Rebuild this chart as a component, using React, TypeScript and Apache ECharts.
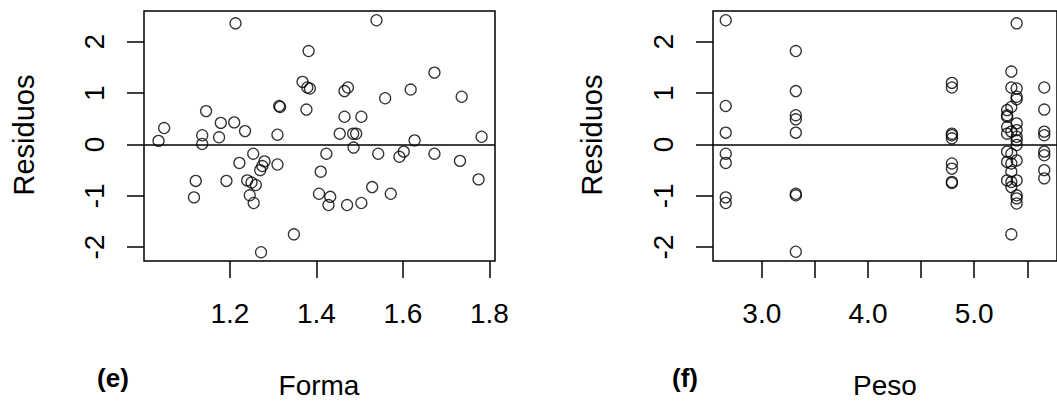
import React, { useEffect, useRef } from "react";
import * as echarts from "echarts";

// Panel (e): Forma vs residuals
const formaX = [
  1.213, 1.382, 1.368, 1.379, 1.385, 1.377, 1.314, 1.316, 1.145, 1.048,
  1.035, 1.179, 1.210, 1.235, 1.136, 1.175, 1.310, 1.136, 1.254, 1.222,
  1.280, 1.275, 1.270, 1.310, 1.121, 1.192, 1.240, 1.250, 1.260, 1.117,
  1.246, 1.255, 1.348, 1.272, 1.539, 1.673, 1.473, 1.465, 1.618, 1.559,
  1.736, 1.465, 1.504, 1.454, 1.485, 1.492, 1.627, 1.782, 1.486, 1.423,
  1.543, 1.602, 1.592, 1.673, 1.732, 1.410, 1.775, 1.406, 1.432, 1.428,
  1.471, 1.504, 1.529, 1.572,
];
const formaRes = [
  2.36, 1.82, 1.22, 1.11, 1.09, 0.68, 0.75, 0.73, 0.65, 0.32,
  0.07, 0.42, 0.43, 0.26, 0.18, 0.14, 0.19, 0.01, -0.18, -0.36,
  -0.33, -0.42, -0.5, -0.39, -0.71, -0.71, -0.7, -0.74, -0.79, -1.03,
  -0.99, -1.14, -1.75, -2.1, 2.42, 1.4, 1.11, 1.04, 1.07, 0.9,
  0.93, 0.54, 0.54, 0.21, 0.21, 0.21, 0.08, 0.15, -0.06, -0.18,
  -0.18, -0.14, -0.24, -0.18, -0.32, -0.53, -0.68, -0.96, -1.02, -1.18,
  -1.18, -1.14, -0.83, -0.96,
];

// Panel (f): Peso vs residuals
const pesoX = [
  2.66, 2.66, 2.66, 2.66, 2.66, 2.66, 2.66,
  3.32, 3.32, 3.32, 3.32, 3.32, 3.32, 3.32, 3.32,
  4.79, 4.79, 4.79, 4.79, 4.79, 4.79, 4.79, 4.79, 4.79,
  5.66, 5.66, 5.66, 5.66, 5.66, 5.66, 5.66, 5.66,
  5.40, 5.40, 5.40, 5.40, 5.40, 5.40, 5.40, 5.40, 5.40, 5.40, 5.40, 5.40, 5.40, 5.40,
  5.35, 5.35, 5.35, 5.35, 5.35, 5.35, 5.35, 5.35, 5.35, 5.35,
  5.31, 5.31, 5.31, 5.31, 5.31, 5.31, 5.31, 5.31,
];
const pesoRes = [
  2.42, 0.75, 0.23, -0.18, -0.36, -1.03, -1.14,
  1.82, 1.04, 0.57, 0.49, 0.23, -0.96, -0.99, -2.09,
  1.2, 1.11, 0.21, 0.18, 0.12, -0.37, -0.47, -0.73, -0.75,
  1.11, 0.68, 0.25, 0.18, -0.14, -0.21, -0.5, -0.66,
  2.36, 1.09, 0.93, 0.88, 0.41, 0.28, 0.15, 0.08, -0.01, -0.31, -0.7, -0.99, -1.05, -1.15,
  1.42, 1.11, 0.73, 0.25, -0.18, -0.37, -0.53, -0.73, -0.83, -1.75,
  0.67, 0.57, 0.54, 0.34, 0.21, -0.14, -0.34, -0.7,
];

const yTicks = [-2, -1, 0, 1, 2];
const formaTicks = [1.2, 1.4, 1.6, 1.8];
const pesoTicks = [3.0, 3.5, 4.0, 4.5, 5.0, 5.5];
const pesoLabels = [3.0, 4.0, 5.0];

const FONT = "'Liberation Sans', Arial, sans-serif";

export default function App() {
  const ref = useRef<HTMLDivElement>(null);
  useEffect(() => {
    if (!ref.current) return;
    const chart = echarts.init(ref.current, null, { renderer: "svg" });
    const tick = { show: true, inside: false, length: 17, lineStyle: { color: "#000", width: 1.5 } };
    const xLabel = (vals: number[]) => ({
      show: true,
      customValues: vals,
      margin: 38,
      fontSize: 28,
      color: "#000",
      fontFamily: FONT,
      formatter: (v: number) => v.toFixed(1),
    });
    const yAxisDef = (gi: number) => ({
      type: "value",
      gridIndex: gi,
      min: -2.27,
      max: 2.6,
      splitLine: { show: false },
      axisLine: { show: false, onZero: false },
      axisTick: { ...tick, customValues: yTicks },
      axisLabel: {
        show: true,
        customValues: yTicks,
        rotate: 90,
        margin: 36,
        fontSize: 28,
        color: "#000",
        fontFamily: FONT,
        formatter: (v: number) => String(v),
      },
    });
    const scatterStyle = {
      symbol: "circle",
      symbolSize: 11,
      itemStyle: { color: "rgba(0,0,0,0)", borderColor: "#000", borderWidth: 1.3 },
    };
    const zeroLine = {
      silent: true,
      symbol: ["none", "none"],
      label: { show: false },
      lineStyle: { color: "#000", type: "solid", width: 1.5 },
      data: [{ yAxis: 0 }],
    };
    const textStyle = (s: any) => ({ fill: "#000", fontFamily: FONT, ...s });
    chart.setOption({
      animation: false,
      backgroundColor: "#fff",
      grid: [
        { left: 144, top: 11, width: 351, height: 250, show: true, borderColor: "#000", borderWidth: 1.5, backgroundColor: "transparent" },
        { left: 713, top: 11, width: 350, height: 250, show: true, borderColor: "#000", borderWidth: 1.5, backgroundColor: "transparent" },
      ],
      xAxis: [
        {
          type: "value",
          gridIndex: 0,
          min: 1.0014,
          max: 1.813,
          splitLine: { show: false },
          axisLine: { show: false, onZero: false },
          axisTick: { ...tick, customValues: formaTicks },
          axisLabel: xLabel(formaTicks),
        },
        {
          type: "value",
          gridIndex: 1,
          min: 2.54,
          max: 5.78,
          splitLine: { show: false },
          axisLine: { show: false, onZero: false },
          axisTick: { ...tick, customValues: pesoTicks },
          axisLabel: xLabel(pesoLabels),
        },
      ],
      yAxis: [yAxisDef(0), yAxisDef(1)],
      series: [
        {
          type: "scatter",
          xAxisIndex: 0,
          yAxisIndex: 0,
          data: formaX.map((x, i) => [x, formaRes[i]]),
          markLine: zeroLine,
          ...scatterStyle,
        },
        {
          type: "scatter",
          xAxisIndex: 1,
          yAxisIndex: 1,
          data: pesoX.map((x, i) => [x, pesoRes[i]]),
          markLine: zeroLine,
          ...scatterStyle,
        },
      ],
      graphic: [
        { type: "text", x: 319, y: 385.5, style: textStyle({ text: "Forma", fontSize: 28, textAlign: "center", textVerticalAlign: "middle" }) },
        { type: "text", x: 885, y: 385.5, style: textStyle({ text: "Peso", fontSize: 28, textAlign: "center", textVerticalAlign: "middle" }) },
        { type: "text", x: 23.5, y: 135, rotation: Math.PI / 2, style: textStyle({ text: "Residuos", fontSize: 29, textAlign: "center", textVerticalAlign: "middle" }) },
        { type: "text", x: 592, y: 135, rotation: Math.PI / 2, style: textStyle({ text: "Residuos", fontSize: 29, textAlign: "center", textVerticalAlign: "middle" }) },
        { type: "text", x: 113, y: 378, style: textStyle({ text: "(e)", fontSize: 26, fontWeight: "bold", textAlign: "center", textVerticalAlign: "middle" }) },
        { type: "text", x: 685, y: 378, style: textStyle({ text: "(f)", fontSize: 26, fontWeight: "bold", textAlign: "center", textVerticalAlign: "middle" }) },
      ],
    });
    return () => chart.dispose();
  }, []);
  return (
    <div
      ref={ref}
      style={{ position: "absolute", left: 0, top: 0, width: 1057, height: 403, overflow: "hidden" }}
    />
  );
}
